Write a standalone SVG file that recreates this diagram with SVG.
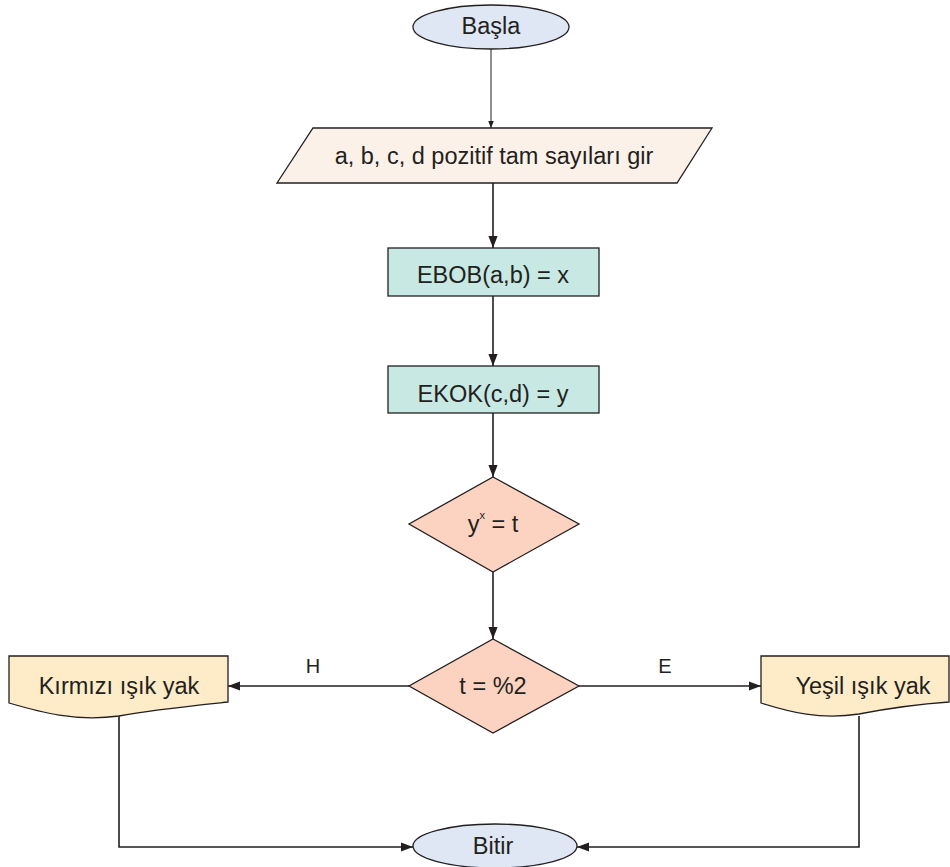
<svg xmlns="http://www.w3.org/2000/svg" width="950" height="867" viewBox="0 0 950 867">
  <defs>
    <style>
      .shape { stroke: #231f20; stroke-width: 1.3; }
      .term { fill: #dfe6f4; }
      .io { fill: #fcf1e8; }
      .proc { fill: #c8e8e3; }
      .dec { fill: #fbd3c0; }
      .doc { fill: #feebc8; }
      .lbl { font-family: "Liberation Sans", Arial, sans-serif; font-size: 23.5px; fill: #231f20; text-anchor: middle; }
      .edge { fill: none; stroke: #231f20; stroke-width: 1.6; }
      .edge-thin { fill: none; stroke: #231f20; stroke-width: 1; }
    </style>
    <marker id="arrow" viewBox="0 0 10 10" refX="10" refY="5" markerWidth="12" markerHeight="12" markerUnits="userSpaceOnUse" orient="auto">
      <path d="M0,1.2 L10,5 L0,8.8 Z" fill="#231f20"/>
    </marker>
    <marker id="arrow-small" viewBox="0 0 10 10" refX="10" refY="5" markerWidth="7" markerHeight="7" markerUnits="userSpaceOnUse" orient="auto">
      <path d="M0,1 L10,5 L0,9 Z" fill="#231f20"/>
    </marker>
  </defs>

  <g id="connectors">
    <line class="edge-thin" x1="491" y1="49" x2="491" y2="128" marker-end="url(#arrow-small)"/>
    <line class="edge" x1="493" y1="183" x2="493" y2="248" marker-end="url(#arrow)"/>
    <line class="edge" x1="493" y1="296" x2="493" y2="366" marker-end="url(#arrow)"/>
    <line class="edge" x1="493" y1="413" x2="493" y2="477" marker-end="url(#arrow)"/>
    <line class="edge" x1="493" y1="572" x2="493" y2="639" marker-end="url(#arrow)"/>
    <line class="edge" x1="409" y1="686" x2="228" y2="686" marker-end="url(#arrow)"/>
    <line class="edge" x1="579" y1="686" x2="761" y2="686" marker-end="url(#arrow)"/>
    <polyline class="edge" points="119,712 119,847 413,847" marker-end="url(#arrow)"/>
    <polyline class="edge" points="859,716 859,847 577,847" marker-end="url(#arrow)"/>
    <text class="lbl" x="313" y="673" style="font-size:20px">H</text>
    <text class="lbl" x="665" y="673" style="font-size:20px">E</text>
  </g>

  <g id="start">
    <ellipse class="shape term" cx="491" cy="27" rx="78" ry="22"/>
    <text class="lbl" x="491" y="34">Başla</text>
  </g>

  <g id="input">
    <polygon class="shape io" points="313,128 712,128 677,183 277,183"/>
    <text class="lbl" x="494" y="164">a, b, c, d pozitif tam sayıları gir</text>
  </g>

  <g id="ebob">
    <rect class="shape proc" x="388" y="248" width="211" height="48"/>
    <text class="lbl" x="493" y="283">EBOB(a,b) = x</text>
  </g>

  <g id="ekok">
    <rect class="shape proc" x="388" y="366" width="211" height="47"/>
    <text class="lbl" x="493" y="402">EKOK(c,d) = y</text>
  </g>

  <g id="power">
    <polygon class="shape dec" points="493,477 579,524 493,572 409,524"/>
    <text class="lbl" x="493" y="532">y<tspan font-size="11" dy="-13">x</tspan><tspan dy="13"> = t</tspan></text>
  </g>

  <g id="parity">
    <polygon class="shape dec" points="493,639 579,686 493,733 409,686"/>
    <text class="lbl" x="493" y="694">t = %2</text>
  </g>

  <g id="red">
    <path class="shape doc" d="M9,656 L228,656 L228,702 C190,706 150,710 119,716 C75,722 40,712 9,703 Z"/>
    <text class="lbl" x="119" y="694">Kırmızı ışık yak</text>
  </g>

  <g id="green">
    <path class="shape doc" d="M761,656 L949,656 L949,702 C920,704 890,708 859,714 C820,720 790,712 761,703 Z"/>
    <text class="lbl" x="863" y="694">Yeşil ışık yak</text>
  </g>

  <g id="end">
    <ellipse class="shape term" cx="495" cy="846" rx="82" ry="22"/>
    <text class="lbl" x="493" y="854">Bitir</text>
  </g>
</svg>
